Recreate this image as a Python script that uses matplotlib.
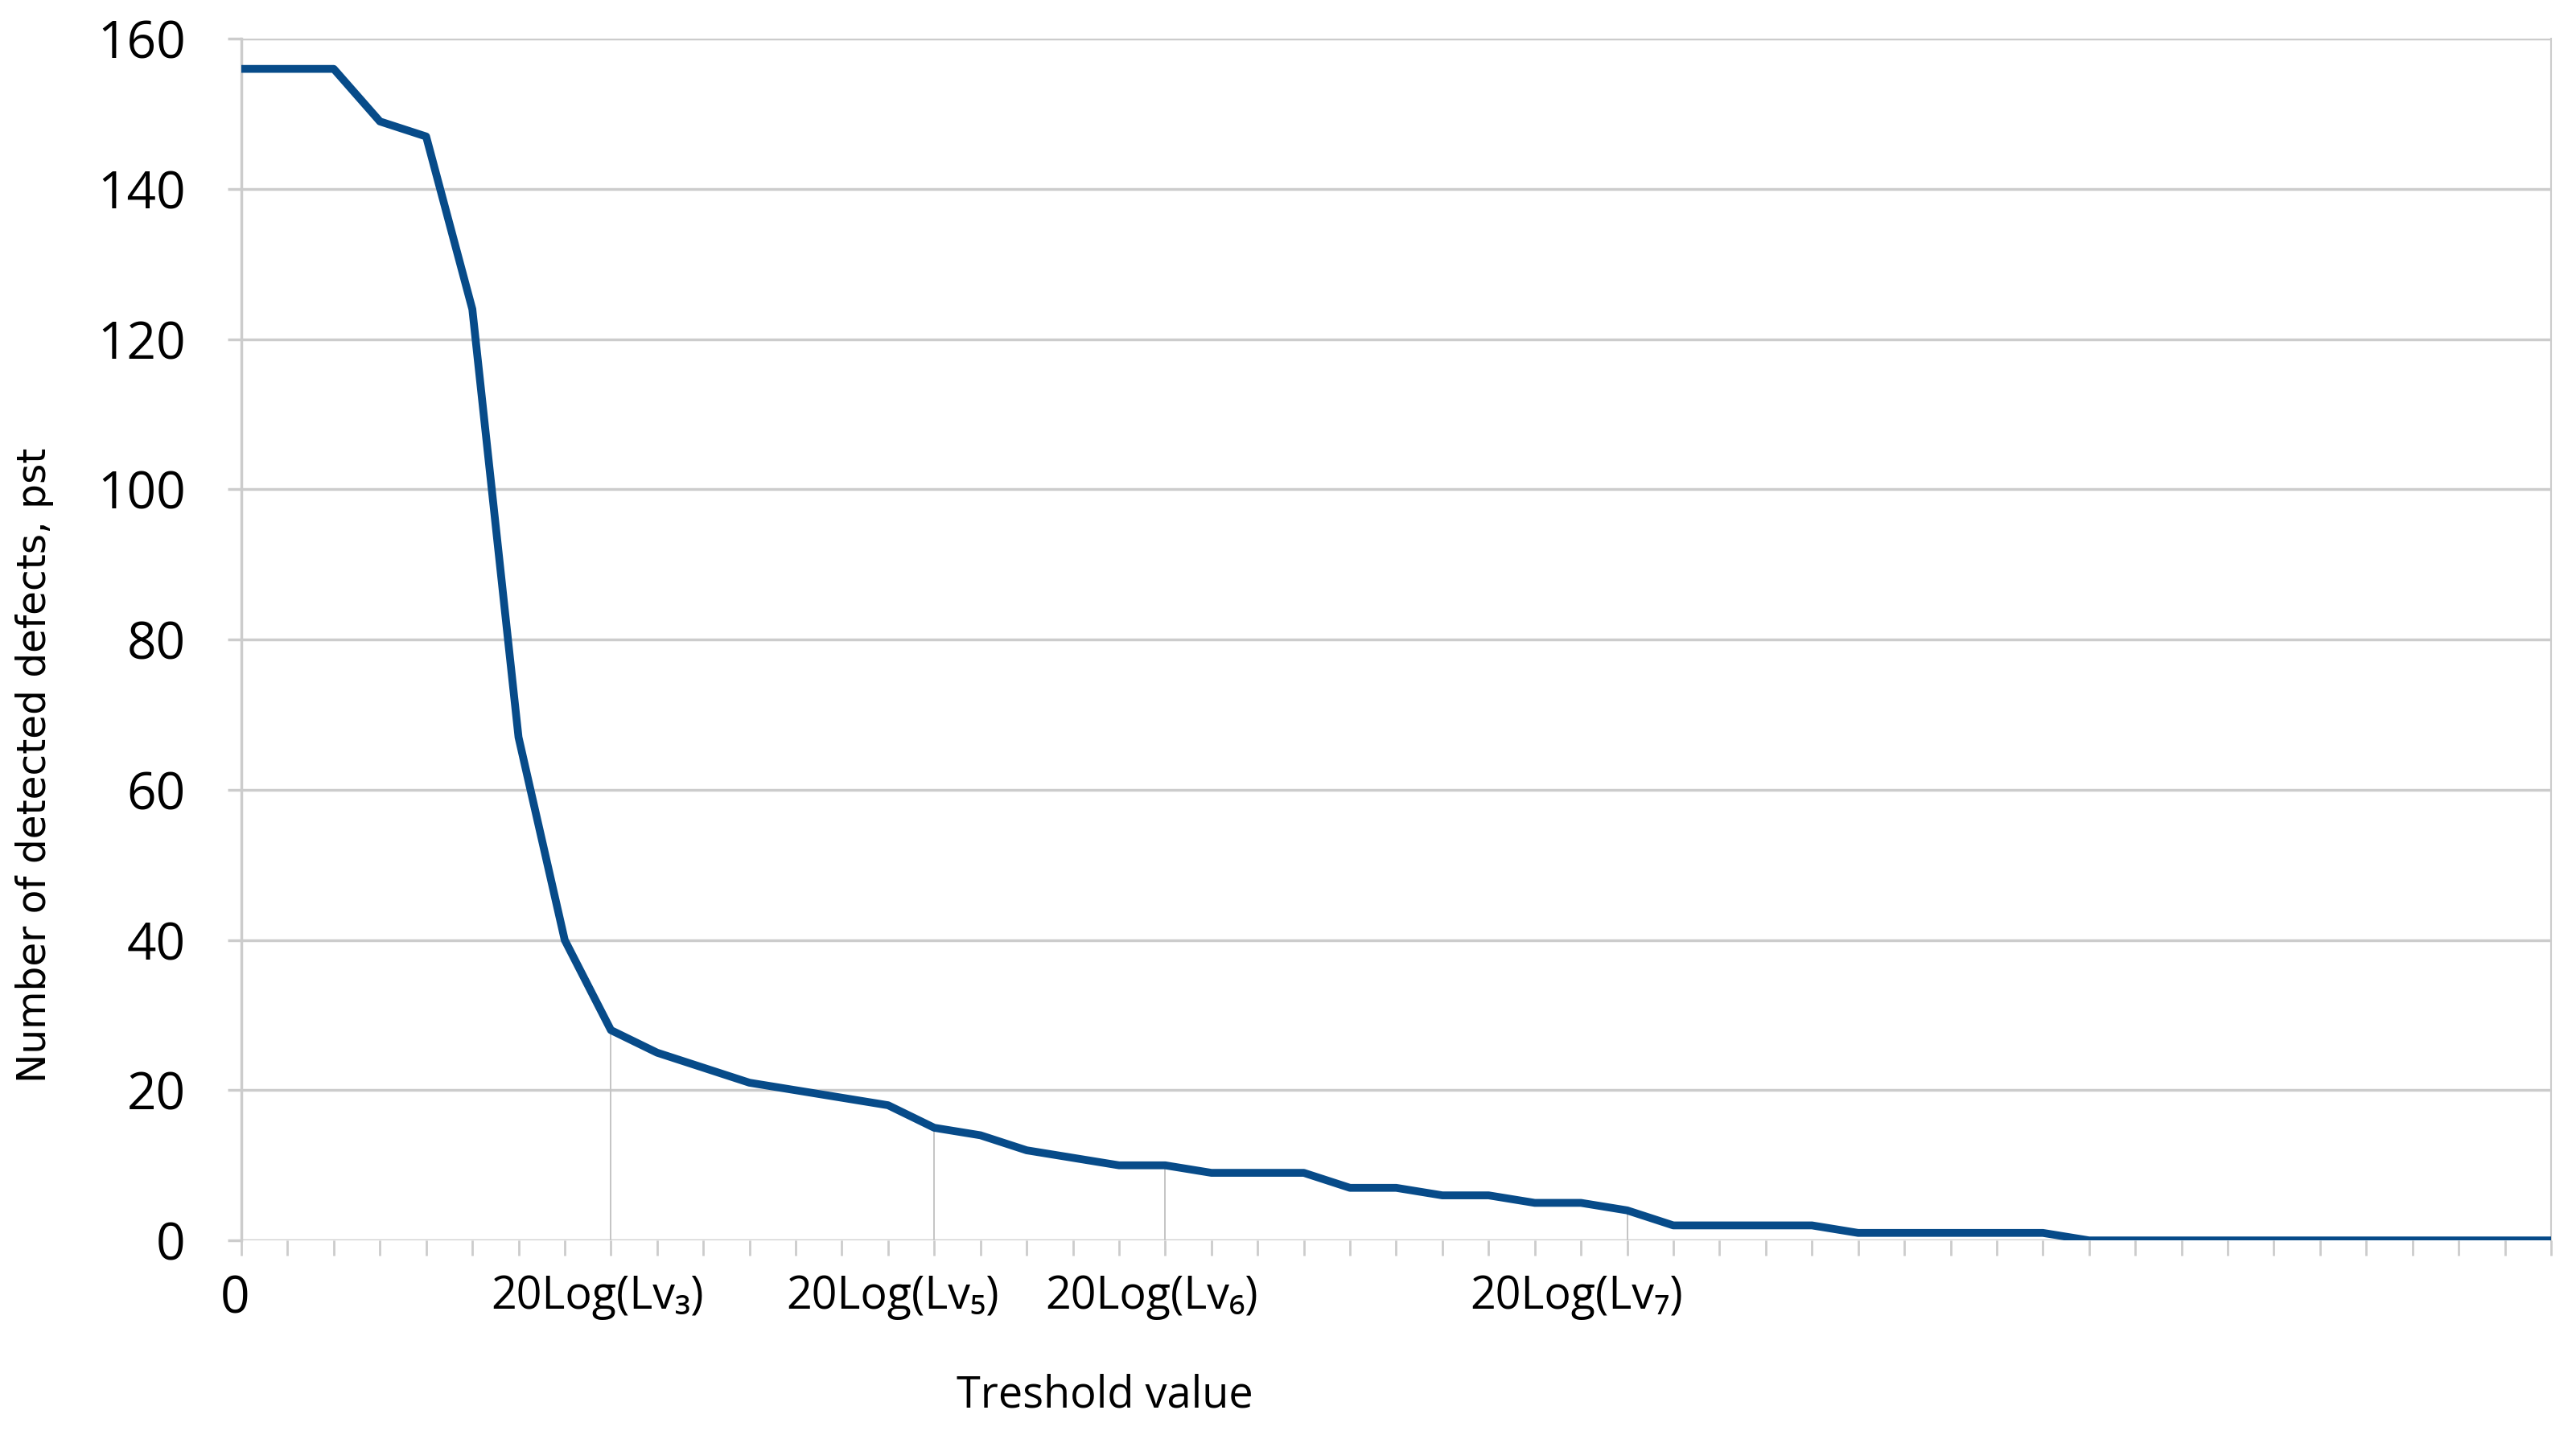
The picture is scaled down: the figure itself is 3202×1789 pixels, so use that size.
import numpy as np
import matplotlib
matplotlib.use('Agg')
import matplotlib.pyplot as plt
import matplotlib.transforms as mtransforms

# Datos
umbral = list(range(0, 51))
defectos = [156, 156, 156, 149, 147, 124, 67, 40, 28, 25,
            23, 21, 20, 19, 18, 15, 14, 12, 11, 10,
            10, 9, 9, 9, 7, 7, 6, 6, 5, 5,
            4, 2, 2, 2, 2, 1, 1, 1, 1, 1,
            0, 0, 0, 0, 0, 0, 0, 0, 0, 0, 0]

pos_etiquetas = [8, 15, 20, 30]
etiquetas = ['20Log(Lv\u2083)', '20Log(Lv\u2085)', '20Log(Lv\u2086)', '20Log(Lv\u2087)']
y_ticks = [0, 20, 40, 60, 80, 100, 120, 140, 160]

gris = '#cccccc'
azul = '#074b89'
fuente = ['Open Sans', 'DejaVu Sans']

fig = plt.figure(figsize=(32.02, 17.89), dpi=100)
ax = fig.add_axes([0.0937, 0.138, 0.8966, 0.835])

# Lineas de division verticales hasta la curva
y_marcas = [defectos[umbral.index(p)] for p in pos_etiquetas]
ax.vlines(pos_etiquetas, 0, y_marcas, color='#c4c4c4', lw=1.4, zorder=1)

# Curva
ax.plot(umbral, defectos, color=azul, lw=7, solid_joinstyle='round', zorder=3)

ax.set_xlim(0, 50)
ax.set_ylim(0, 160)

# Grilla horizontal
ax.set_yticks(y_ticks)
ax.yaxis.grid(True, color=gris, lw=2.5, zorder=0)
ax.set_axisbelow(True)
ax.set_yticklabels([str(v) for v in y_ticks], family=fuente, fontsize=46)
ax.tick_params(axis='y', direction='out', length=12, width=2.5, color=gris, pad=38)

# Eje x
ax.set_xticks(umbral, minor=True)
ax.set_xticks([0] + pos_etiquetas)
ax.set_xticklabels(['0'] + etiquetas, family=fuente, fontsize=40)
ax.get_xticklabels()[0].set_fontsize(46)
ax.tick_params(axis='x', which='both', direction='out', length=14, width=2, color=gris, pad=16)

# pequeno corrimiento a la izquierda de las etiquetas (como en el original)
corrimiento = [-6, -12, -37, -12, -45]
for lab, dx in zip(ax.get_xticklabels(), corrimiento):
    lab.set_transform(lab.get_transform() +
                      mtransforms.ScaledTranslation(dx / 72, 0, fig.dpi_scale_trans))

for lado in ['top', 'bottom']:
    ax.spines[lado].set_visible(False)
ax.spines['left'].set_color(gris)
ax.spines['left'].set_linewidth(2.5)
ax.spines['right'].set_color(gris)
ax.spines['right'].set_linewidth(1.5)

fig.text(0.0135, 0.468, 'Number of detected defects, pst', rotation=90,
         ha='center', va='center', family='DejaVu Sans', fontsize=35)
fig.text(0.429, 0.030, 'Treshold value', ha='center', va='center',
         family=fuente, fontsize=39)

fig.savefig('out.png', dpi=100, facecolor='white')
